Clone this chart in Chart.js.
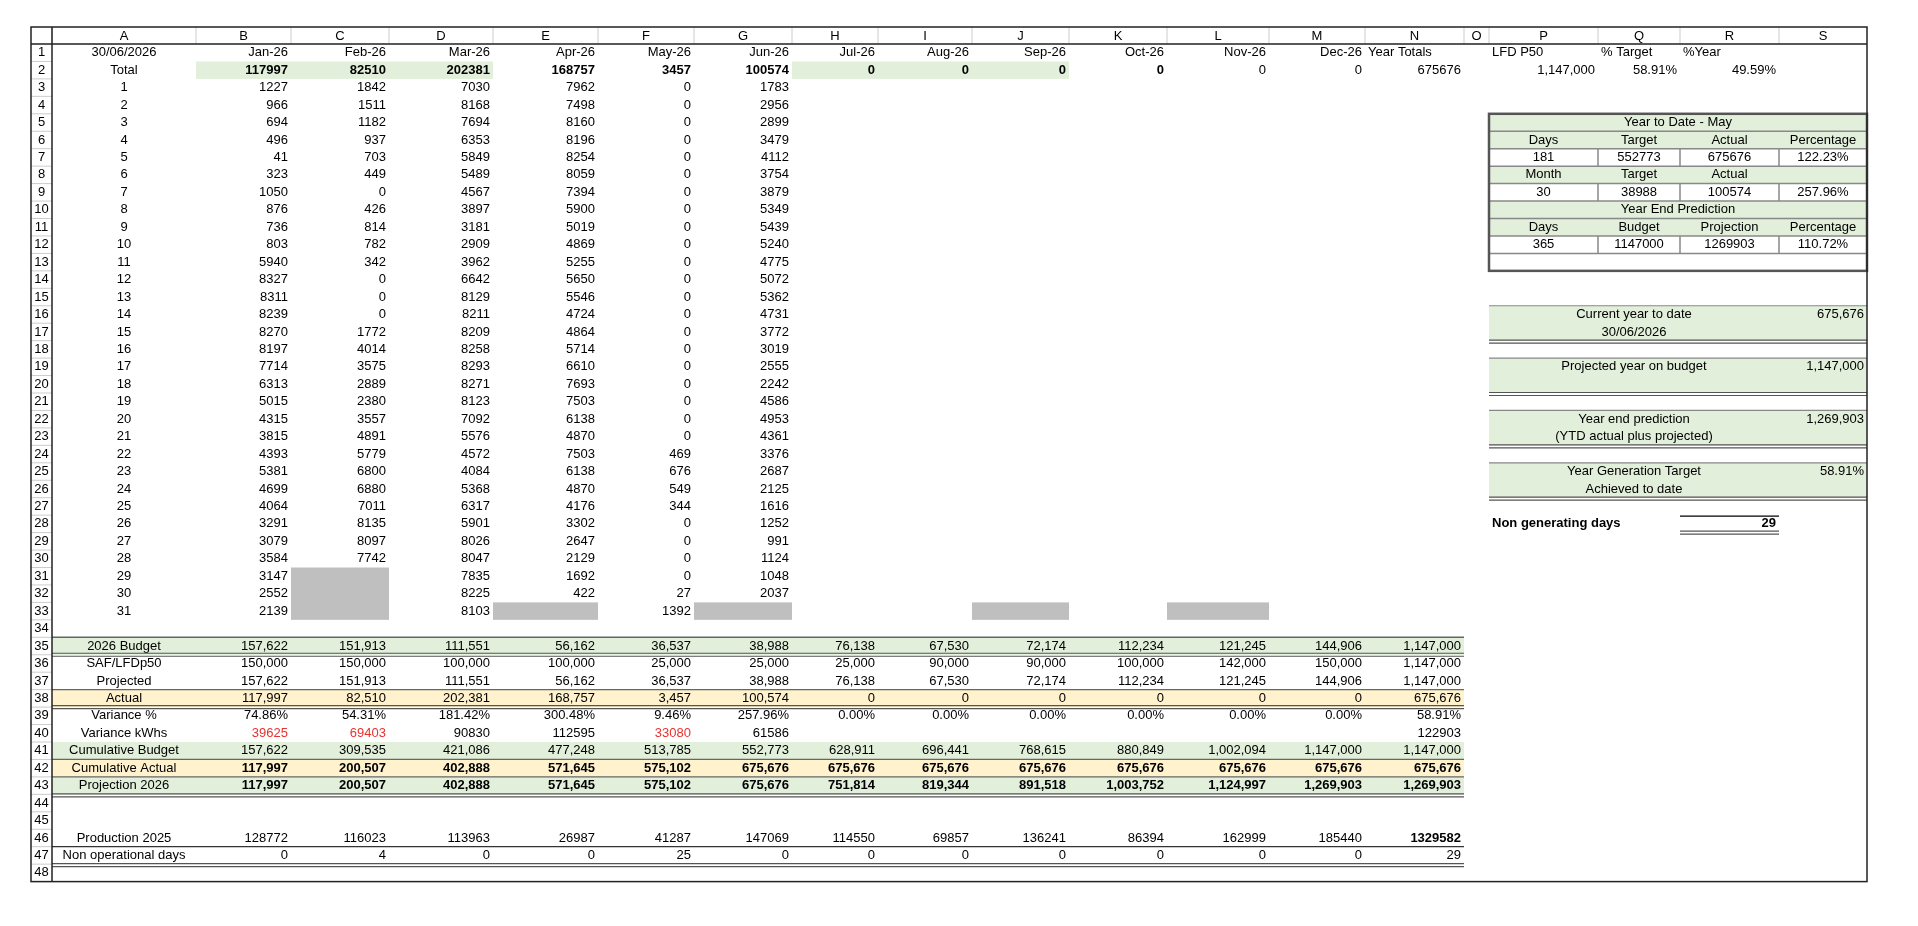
<!DOCTYPE html>
<html><head><meta charset="utf-8">
<script src="https://cdn.jsdelivr.net/npm/chart.js@4"></script>
<style>html,body{margin:0;padding:0;background:#fff}#wrap{width:1918px;height:926px}</style>
</head><body><div id="wrap"><canvas id="c"></canvas></div>
<script>
const colLetters=["A","B","C","D","E","F","G","H","I","J","K","L","M","N","O","P","Q","R","S"];
const months=["Jan-26","Feb-26","Mar-26","Apr-26","May-26","Jun-26","Jul-26","Aug-26","Sep-26","Oct-26","Nov-26","Dec-26"];
const reportDate="30/06/2026";
const totals=[117997,82510,202381,168757,3457,100574,0,0,0,0,0,0,675676];
const jan=[1227,966,694,496,41,323,1050,876,736,803,5940,8327,8311,8239,8270,8197,7714,6313,5015,4315,3815,4393,5381,4699,4064,3291,3079,3584,3147,2552,2139];
const feb=[1842,1511,1182,937,703,449,0,426,814,782,342,0,0,0,1772,4014,3575,2889,2380,3557,4891,5779,6800,6880,7011,8135,8097,7742];
const mar=[7030,8168,7694,6353,5849,5489,4567,3897,3181,2909,3962,6642,8129,8211,8209,8258,8293,8271,8123,7092,5576,4572,4084,5368,6317,5901,8026,8047,7835,8225,8103];
const apr=[7962,7498,8160,8196,8254,8059,7394,5900,5019,4869,5255,5650,5546,4724,4864,5714,6610,7693,7503,6138,4870,7503,6138,4870,4176,3302,2647,2129,1692,422];
const may=[0,0,0,0,0,0,0,0,0,0,0,0,0,0,0,0,0,0,0,0,0,469,676,549,344,0,0,0,0,27,1392];
const jun=[1783,2956,2899,3479,4112,3754,3879,5349,5439,5240,4775,5072,5362,4731,3772,3019,2555,2242,4586,4953,4361,3376,2687,2125,1616,1252,991,1124,1048,2037];
const budget=[157622,151913,111551,56162,36537,38988,76138,67530,72174,112234,121245,144906,1147000];
const safP50=[150000,150000,100000,100000,25000,25000,25000,90000,90000,100000,142000,150000,1147000];
const projected=[157622,151913,111551,56162,36537,38988,76138,67530,72174,112234,121245,144906,1147000];
const actual=[117997,82510,202381,168757,3457,100574,0,0,0,0,0,0,675676];
const variancePct=[74.86,54.31,181.42,300.48,9.46,257.96,0,0,0,0,0,0,58.91];
const varianceKwh=[39625,69403,90830,112595,33080,61586,null,null,null,null,null,null,122903];
const varianceNeg=[true,true,false,false,true,false];
const cumBudget=[157622,309535,421086,477248,513785,552773,628911,696441,768615,880849,1002094,1147000,1147000];
const cumActual=[117997,200507,402888,571645,575102,675676,675676,675676,675676,675676,675676,675676,675676];
const projection2026=[117997,200507,402888,571645,575102,675676,751814,819344,891518,1003752,1124997,1269903,1269903];
const production2025=[128772,116023,113963,26987,41287,147069,114550,69857,136241,86394,162999,185440,1329582];
const nonOpDays=[0,4,0,0,25,0,0,0,0,0,0,0,29];
const ytdRows=[["Days","Target","Actual","Percentage"],["181","552773","675676","122.23%"],["Month","Target","Actual",""],["30","38988","100574","257.96%"],["Days","Budget","Projection","Percentage"],["365","1147000","1269903","110.72%"]];
const panels=[[16,"Current year to date",reportDate,"675,676"],[19,"Projected year on budget","","1,147,000"],[22,"Year end prediction","(YTD actual plus projected)","1,269,903"],[25,"Year Generation Target","Achieved to date","58.91%"]];
const nonGenDays=29;

const colEdges=[31,52,198,294,393,498,604,701,800,887,982,1079,1178,1282,1378,1478,1504,1614,1697,1797,1886].map(v=>Math.round(31+(v-31)*0.99));
const TOP=27,HDR=44,RH=17.45,NROWS=48;
const GREEN="#e2efda",YELLOW="#fff2cc",GREY="#bfbfbf";
const fmt=v=>v.toLocaleString("en-US");

const sheet={id:"sheet",afterDraw(chart){
 const ctx=chart.ctx,xs=chart.scales.x,ys=chart.scales.y;
 const X=v=>xs.getPixelForValue(v),Y=v=>ys.getPixelForValue(v);
 const cx=i=>X(colEdges[i+1]);
 const rT=r=>Y(HDR+(r-1)*RH), rB=r=>Y(HDR+r*RH);
 const font=(b,s)=>ctx.font=(b?"bold ":"")+(s||13)+"px 'Liberation Sans', Arial, sans-serif";
 const fill=(c1,c2,r1,r2,col)=>{ctx.fillStyle=col;ctx.fillRect(cx(c1),rT(r1),cx(c2+1)-cx(c1),rB(r2)-rT(r1));};
 const hline=(c1,c2,r,w,col)=>{ctx.strokeStyle=col||"#555";ctx.lineWidth=w||1;ctx.beginPath();ctx.moveTo(cx(c1),r);ctx.lineTo(cx(c2+1),r);ctx.stroke();};
 const dbl=(c1,c2,y)=>{hline(c1,c2,y-1.5,1.2,"#555");hline(c1,c2,y+1.5,1.2,"#555");};
 const txt=(s,c,r,al,opt)=>{opt=opt||{};font(opt.b,opt.s);ctx.fillStyle=opt.col||"#000";ctx.textBaseline="middle";
   const y=(rT(r)+rB(r))/2+(opt.dy||0);const c2=opt.c2!==undefined?opt.c2:c;
   if(al==="r"){ctx.textAlign="right";ctx.fillText(s,cx(c2+1)-3,y);}
   else if(al==="l"){ctx.textAlign="left";ctx.fillText(s,cx(c)+3,y);}
   else{ctx.textAlign="center";ctx.fillText(s,(cx(c)+cx(c2+1))/2,y);}};
 ctx.fillStyle="#fff";ctx.fillRect(0,0,1918,926);
 ctx.strokeStyle="#ccc";ctx.lineWidth=1;
 for(let i=1;i<colEdges.length-1;i++){ctx.beginPath();ctx.moveTo(X(colEdges[i]),Y(TOP));ctx.lineTo(X(colEdges[i]),Y(HDR));ctx.stroke();}
 for(let r=1;r<=NROWS;r++){ctx.beginPath();ctx.moveTo(X(colEdges[0]),rB(r));ctx.lineTo(X(colEdges[1]),rB(r));ctx.stroke();}
 font(false,13);ctx.fillStyle="#000";ctx.textAlign="center";ctx.textBaseline="middle";
 colLetters.forEach((l,i)=>ctx.fillText(l,(cx(i)+cx(i+1))/2,(Y(TOP)+Y(HDR))/2+1));
 for(let r=1;r<=NROWS;r++){ctx.textAlign="center";ctx.fillText(String(r),(X(colEdges[0])+X(colEdges[1]))/2,(rT(r)+rB(r))/2);}
 fill(1,3,2,2,GREEN);fill(7,9,2,2,GREEN);
 fill(2,2,31,33,GREY);[4,6,9,11].forEach(c=>fill(c,c,33,33,GREY));
 [35,41,43].forEach(r=>fill(0,13,r,r,GREEN));[38,42].forEach(r=>fill(0,13,r,r,YELLOW));
 txt(reportDate,0,1,"c");txt("Total",0,2,"c");
 months.forEach((m,i)=>txt(m,i+1,1,"r"));txt("Year Totals",13,1,"l");
 totals.forEach((v,i)=>txt(String(v),i+1,2,"r",{b:i<10}));
 txt("LFD P50",15,1,"l");txt("% Target",16,1,"l");txt("%Year",17,1,"l");
 txt("1,147,000",15,2,"r");txt("58.91%",16,2,"r");txt("49.59%",17,2,"r");
 [jan,feb,mar,apr,may,jun].forEach((arr,m)=>arr.forEach((v,d)=>txt(String(v),m+1,d+3,"r")));
 for(let d=1;d<=31;d++)txt(String(d),0,d+2,"c");
 const rows=[[35,"2026 Budget",budget.map(fmt),false],[36,"SAF/LFDp50",safP50.map(fmt),false],[37,"Projected",projected.map(fmt),false],[38,"Actual",actual.map(fmt),false],
  [39,"Variance %",variancePct.map(v=>v.toFixed(2)+"%"),false],[40,"Variance kWhs",varianceKwh.map(v=>v===null?"":String(v)),false],
  [41,"Cumulative Budget",cumBudget.map(fmt),false],[42,"Cumulative Actual",cumActual.map(fmt),true],[43,"Projection 2026",projection2026.map(fmt),true],
  [46,"Production 2025",production2025.map(String),false],[47,"Non operational days",nonOpDays.map(String),false]];
 rows.forEach(([r,l,vals,b])=>{txt(l,0,r,"c");vals.forEach((s,i)=>txt(s,i+1,r,"r",{b:b||(r===46&&i===12),col:(r===40&&varianceNeg[i])?"#e8322e":"#000"}));});
 hline(0,13,rT(35),1.5,"#666");dbl(0,13,rB(35));hline(0,13,rT(38),1.2,"#666");dbl(0,13,rB(38));
 hline(0,13,rB(41),1.2,"#666");hline(0,13,rB(42),1.2,"#666");dbl(0,13,rB(43)+1);
 hline(0,13,rB(46),1.2,"#333");dbl(0,13,rB(47)+1);
 fill(15,18,5,6,GREEN);fill(15,18,8,8,GREEN);fill(15,18,10,11,GREEN);
 txt("Year to Date - May",15,5,"c",{c2:18});txt("Year End Prediction",15,10,"c",{c2:18});
 const boxRows=[6,7,8,9,11,12];
 ytdRows.forEach((row,k)=>row.forEach((s,j)=>txt(s,15+j,boxRows[k],"c")));
 ctx.strokeStyle="#888";ctx.lineWidth=1.5;
 [6,7,8,9,10,11,12,13].forEach(r=>hline(15,18,rT(r),1.5,"#888"));
 [7,9,12].forEach(r=>{for(let c=16;c<=18;c++){ctx.strokeStyle="#888";ctx.lineWidth=1.5;ctx.beginPath();ctx.moveTo(cx(c),rT(r));ctx.lineTo(cx(c),rB(r));ctx.stroke();}});
 ctx.strokeStyle="#555";ctx.lineWidth=2.5;ctx.strokeRect(cx(15),rT(5),cx(19)-cx(15),rB(13)-rT(5));
 panels.forEach(([r,a,b,v])=>{fill(15,18,r,r+1,GREEN);hline(15,18,rT(r),1.2,"#888");dbl(15,18,rB(r+1)+1);
   txt(a,15,r,"c",{c2:17});if(b)txt(b,15,r+1,"c",{c2:17});txt(v,18,r,"r");});
 txt("Non generating days",15,28,"l",{b:true});
 hline(17,17,rT(28)+1,1.2,"#000");txt(String(nonGenDays),17,28,"r",{b:true});dbl(17,17,rB(28));
 ctx.strokeStyle="#222";ctx.lineWidth=1.5;ctx.strokeRect(X(colEdges[0]),Y(TOP),X(colEdges[colEdges.length-1])-X(colEdges[0]),rB(NROWS)-Y(TOP));
 ctx.beginPath();ctx.moveTo(X(colEdges[0]),Y(HDR));ctx.lineTo(X(colEdges[colEdges.length-1]),Y(HDR));ctx.moveTo(X(colEdges[1]),Y(TOP));ctx.lineTo(X(colEdges[1]),rB(NROWS));ctx.stroke();
}};
new Chart(document.getElementById("c"),{type:"scatter",data:{datasets:[{data:[],showLine:false}]},
 options:{responsive:true,maintainAspectRatio:false,animation:false,layout:{padding:0},
 plugins:{legend:{display:false},tooltip:{enabled:false}},
 scales:{x:{type:"linear",min:0,max:1918,display:false},y:{type:"linear",min:0,max:926,reverse:true,display:false}}},
 plugins:[sheet]});
</script></body></html>
